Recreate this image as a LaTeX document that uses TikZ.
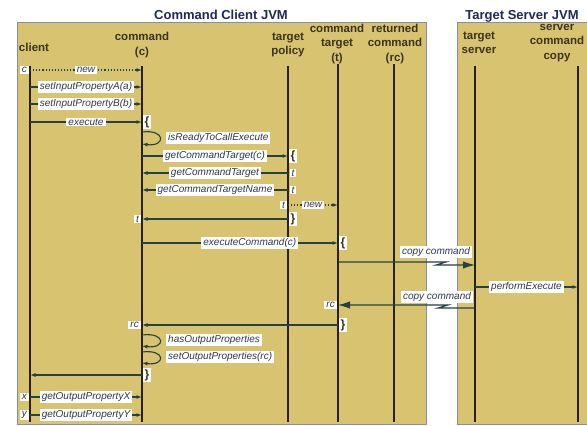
\documentclass[tikz,border=0pt]{standalone}
\usepackage{fontspec}
\setmainfont{Liberation Sans}
\usetikzlibrary{arrows.meta}
\usetikzlibrary{positioning}

\definecolor{panelfill}{RGB}{216,196,112}
\definecolor{panelline}{RGB}{128,144,170}
\definecolor{titleblue}{RGB}{28,42,88}
\definecolor{headtext}{RGB}{58,52,30}
\definecolor{lifeline}{RGB}{40,34,22}
\definecolor{msgline}{RGB}{34,66,68}
\definecolor{lbltext}{RGB}{44,54,80}

\tikzset{
  panel/.style={fill=panelfill, draw=panelline, line width=0.8pt},
  jvm/.style={font=\bfseries\fontsize{13}{15}\selectfont, text=titleblue, inner sep=1pt},
  head/.style={font=\bfseries\fontsize{11.5}{14.5}\selectfont, text=headtext, align=center, inner sep=0pt},
  life/.style={draw=lifeline, line width=1.4pt},
  msg/.style={draw=msgline, line width=1.1pt, -{Latex[length=5.5pt,width=4pt]}},
  bigtip/.style={-{Latex[length=12pt,width=7.5pt]}},
  lbl/.style={fill=white, text=lbltext, font=\itshape\fontsize{10}{11}\selectfont, inner xsep=2pt, inner ysep=1.2pt},
  brace/.style={fill=white, text=headtext, font=\bfseries\fontsize{12}{13}\selectfont, inner xsep=1.5pt, inner ysep=1pt},
}

\begin{document}
\begin{tikzpicture}[x=1pt, y=-1pt]
    \useasboundingbox (0,0) rectangle (587,426);
    \fill[white] (0,0) rectangle (587,426);

    % the two JVMs
    \draw[panel] (17,22) rectangle (426,424);
    \draw[panel] (457,22) rectangle (592,424);
    \node[jvm, anchor=base] (cjvm) at (221,19) {Command Client JVM};
    \node[jvm, anchor=base] (sjvm) at (522,19) {Target Server JVM};

    % lifeline heads
    \node[head] (h-cl) at (34,47) {client};
    \node[head] (h-cm) at (142,45) {command\\(c)};
    \node[head] (h-tp) at (288,45) {target\\policy};
    \node[head] (h-tg) at (337,44) {command\\target\\(t)};
    \node[head] (h-rc) at (395,44) {returned\\command\\(rc)};
    \node[head] (h-ts) at (479,43) {target\\server};
    \node[head] (h-sc) at (557,43) {server\\command\\copy};

    \coordinate (cl) at (30,66);
    \coordinate (cm) at (142,66);
    \coordinate (tp) at (288,66);
    \coordinate (tg) at (338,64);
    \coordinate (rc) at (394,64);
    \coordinate (ts) at (475,66);
    \coordinate (sc) at (578,66);

    \foreach \l in {cl,cm,tp,tg,rc,ts,sc}
      \draw[life] (\l) -- (\l |- 0,422);

    % one point per lifeline and message row
    \foreach \r/\y in {new/70, seta/87, setb/104, exec/122, rdya/132, rdyb/144,
                       gct/156, gctr/173, gctn/190, newt/205, tret/219, excmd/243,
                       cpa/262, cpb/265, perf/287, cpc/305, cpd/308, rcret/325,
                       hopa/335, hopb/346, sopa/352, sopb/363, ret/375, getx/397, gety/415}
      \foreach \l in {cl,cm,tp,tg,rc,ts,sc}
        \coordinate (\l-\r) at (\l |- 0,\y);

    % client -> command
    \draw[msg, dotted] (cl-new) -- node[lbl] (l-new) {new} (cm-new);
    \node[lbl, left=1pt of cl-new] (o-c) {c};
    \draw[msg] (cl-seta) -- node[lbl] (l-seta) {setInputPropertyA(a)} (cm-seta);
    \draw[msg] (cl-setb) -- node[lbl] (l-setb) {setInputPropertyB(b)} (cm-setb);
    \draw[msg] (cl-exec) -- node[lbl] (l-exec) {execute} (cm-exec);
    \node[brace, right=1pt of cm-exec] (b-exec) {\{};

    \draw[msg] (cm-rdya) .. controls +(24,-3) and +(24,3) .. (cm-rdyb);
    \node[lbl, anchor=west] (l-rdy) at (166,138) {isReadyToCallExecute};

    % command <-> target policy
    \draw[msg] (cm-gct) -- node[lbl] (l-gct) {getCommandTarget(c)} (tp-gct);
    \node[brace, right=1pt of tp-gct] (b-gct) {\{};
    \draw[msg] (tp-gctr) -- node[lbl] (l-gctr) {getCommandTarget} (cm-gctr);
    \node[lbl, right=1.5pt of tp-gctr] (o-t1) {t};
    \draw[msg] (tp-gctn) -- node[lbl] (l-gctn) {getCommandTargetName} (cm-gctn);
    \node[lbl, right=1.5pt of tp-gctn] (o-t2) {t};
    \draw[msg, dotted] (tp-newt) -- node[lbl] (l-newt) {new} (tg-newt);
    \node[lbl, left=1pt of tp-newt] (o-t3) {t};
    \draw[msg] (tp-tret) -- (cm-tret);
    \node[lbl, left=1pt of cm-tret] (o-t4) {t};
    \node[brace, right=1pt of tp-tret] (b-tret) {\}};

    % command -> command target -> server
    \draw[msg] (cm-excmd) -- node[lbl, pos=0.55] (l-excmd) {executeCommand(c)} (tg-excmd);
    \node[brace, right=1pt of tg-excmd] (b-excmd) {\{};

    \coordinate (zz1a) at (446,262);
    \coordinate (zz1b) at (436,265);
    \draw[msg, bigtip] (tg-cpa) -- (zz1a) -- (zz1b) -- (ts-cpb);
    \node[lbl] (l-cp1) at (436,252) {copy command};

    \draw[msg] (ts-perf) -- node[lbl] (l-perf) {performExecute} (sc-perf);

    \coordinate (zz2a) at (438,308);
    \coordinate (zz2b) at (448,305);
    \draw[msg, bigtip] (ts-cpd) -- (zz2a) -- (zz2b) -- (tg-cpc);
    \node[lbl] (l-cp2) at (437,297) {copy command};
    \node[lbl, left=1pt of tg-cpc] (o-rc1) {rc};

    \draw[msg] (tg-rcret) -- (cm-rcret);
    \node[lbl, left=1pt of cm-rcret] (o-rc2) {rc};
    \node[brace, right=1pt of tg-rcret] (b-rcret) {\}};

    \draw[msg] (cm-hopa) .. controls +(24,-3) and +(24,3) .. (cm-hopb);
    \node[lbl, anchor=west] (l-hop) at (166,340) {hasOutputProperties};
    \draw[msg] (cm-sopa) .. controls +(24,-3) and +(24,3) .. (cm-sopb);
    \node[lbl, anchor=west] (l-sop) at (166,357) {setOutputProperties(rc)};

    % back to the client
    \draw[msg] (cm-ret) -- (cl-ret);
    \node[brace, right=1pt of cm-ret] (b-ret) {\}};
    \draw[msg] (cl-getx) -- node[lbl] (l-getx) {getOutputPropertyX} (cm-getx);
    \node[lbl, left=1pt of cl-getx] (o-x) {x};
    \draw[msg] (cl-gety) -- node[lbl] (l-gety) {getOutputPropertyY} (cm-gety);
    \node[lbl, left=1pt of cl-gety] (o-y) {y};
\end{tikzpicture}
\end{document}
